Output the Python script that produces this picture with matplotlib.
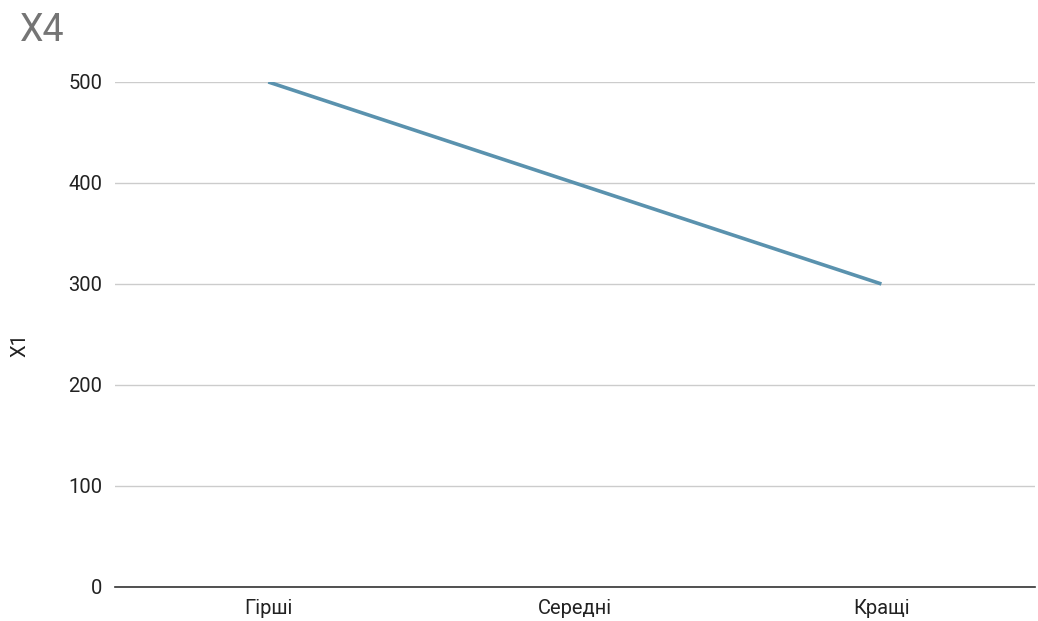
import matplotlib
matplotlib.use("Agg")
from matplotlib import pyplot as plt

# data
categories = ['Гірші', 'Середні', 'Кращі']
x1_values = [500, 400, 300]
y_ticks = [0, 100, 200, 300, 400, 500]

plt.rcParams['font.family'] = ['Roboto', 'DejaVu Sans']

fig = plt.figure(figsize=(10.38, 6.21), dpi=100)
ax = fig.add_axes([0.1108, 0.0548, 0.886, 0.8132])

ax.plot(range(len(categories)), x1_values, color='#5A92AE', linewidth=2.6,
        solid_capstyle='butt', zorder=3)

ax.set_xlim(-0.5, len(categories) - 0.5)
ax.set_ylim(0, 500)
ax.set_yticks(y_ticks)
ax.set_xticks(range(len(categories)))
ax.set_xticklabels(categories)

# light horizontal gridlines, dark baseline
ax.grid(axis='y', color='#cccccc', linewidth=1)
ax.set_axisbelow(True)
for side in ['top', 'right', 'left']:
    ax.spines[side].set_visible(False)
ax.spines['bottom'].set_color('#333333')
ax.spines['bottom'].set_linewidth(1.2)
ax.spines['bottom'].set_zorder(4)
ax.tick_params(axis='both', length=0, labelsize=14.5, labelcolor='#222222')
ax.tick_params(axis='y', pad=9)
ax.tick_params(axis='x', pad=9)

ax.set_ylabel('X1', fontsize=14.5, color='#222222')
ax.yaxis.set_label_coords(-0.093, 0.48)
fig.text(0.019, 0.951, 'X4', fontsize=27, color='#757575', va='center', ha='left')

fig.savefig('out.png', dpi=100, facecolor='white')
